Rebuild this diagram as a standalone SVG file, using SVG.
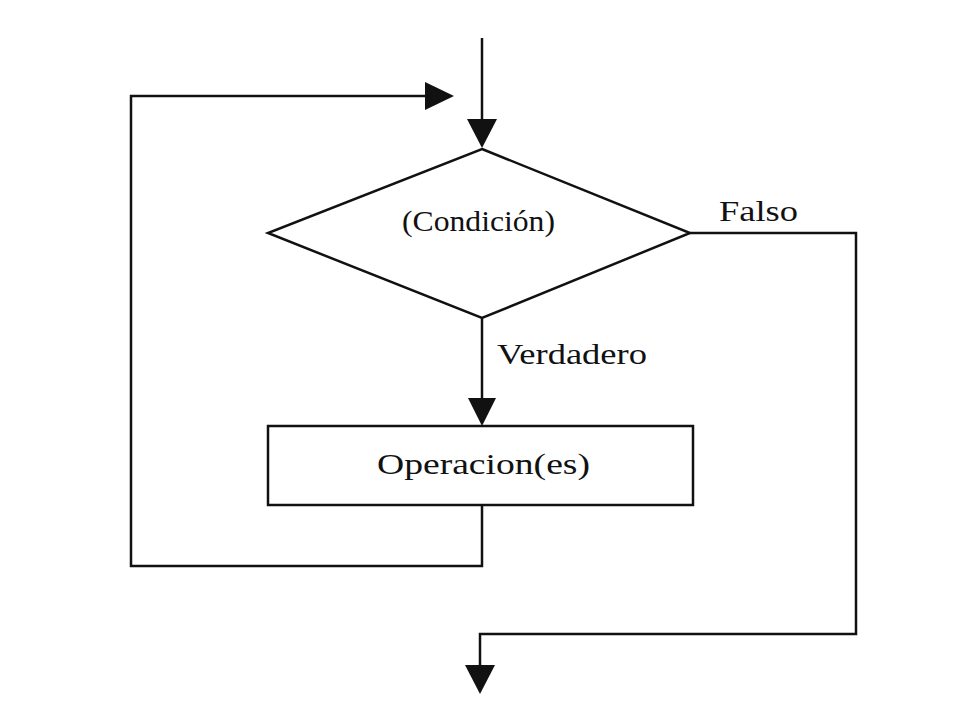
<svg xmlns="http://www.w3.org/2000/svg" width="960" height="720" viewBox="0 0 960 720">
<style>
.ln{fill:none;stroke:#111;stroke-width:2.5;stroke-linejoin:miter}
.nd{fill:#fff;stroke:#111;stroke-width:2.5}
.tx{font-family:"Liberation Serif","Times New Roman",serif;font-size:30px;fill:#111}
</style>
<defs>
<marker id="ah" markerWidth="12" markerHeight="12" refX="11" refY="6" orient="auto" markerUnits="userSpaceOnUse" viewBox="0 0 12 12">
<path d="M0,0 L12,6 L0,12 Z" fill="#111"/>
</marker>
</defs>
<rect width="960" height="720" fill="#fff"/>
<g id="connectors">
<path class="ln" d="M482,38 L482,120"/>
<polygon points="467,119 497,119 482,148" fill="#111"/>
<path class="ln" d="M482,318 L482,400"/>
<polygon points="468,398 496,398 482,426" fill="#111"/>
<path class="ln" d="M482,505 L482,566 L131,566 L131,96 L428,96"/>
<polygon points="425,82 454,96 425,110" fill="#111"/>
<path class="ln" d="M690,233 L856,233 L856,634 L480,634 L480,666"/>
<polygon points="465,665 495,665 480,694" fill="#111"/>
<text class="tx" x="719" y="221" textLength="79" lengthAdjust="spacingAndGlyphs">Falso</text>
<text class="tx" x="497" y="364" textLength="150" lengthAdjust="spacingAndGlyphs">Verdadero</text>
</g>
<g id="condicion">
<polygon class="nd" points="482,149 690,233 482,318 268,233"/>
<text class="tx" x="402" y="231" textLength="153" lengthAdjust="spacingAndGlyphs">(Condición)</text>
</g>
<g id="operaciones">
<rect class="nd" x="268" y="426" width="425" height="79"/>
<text class="tx" x="377" y="474" textLength="213" lengthAdjust="spacingAndGlyphs">Operacion(es)</text>
</g>
</svg>
